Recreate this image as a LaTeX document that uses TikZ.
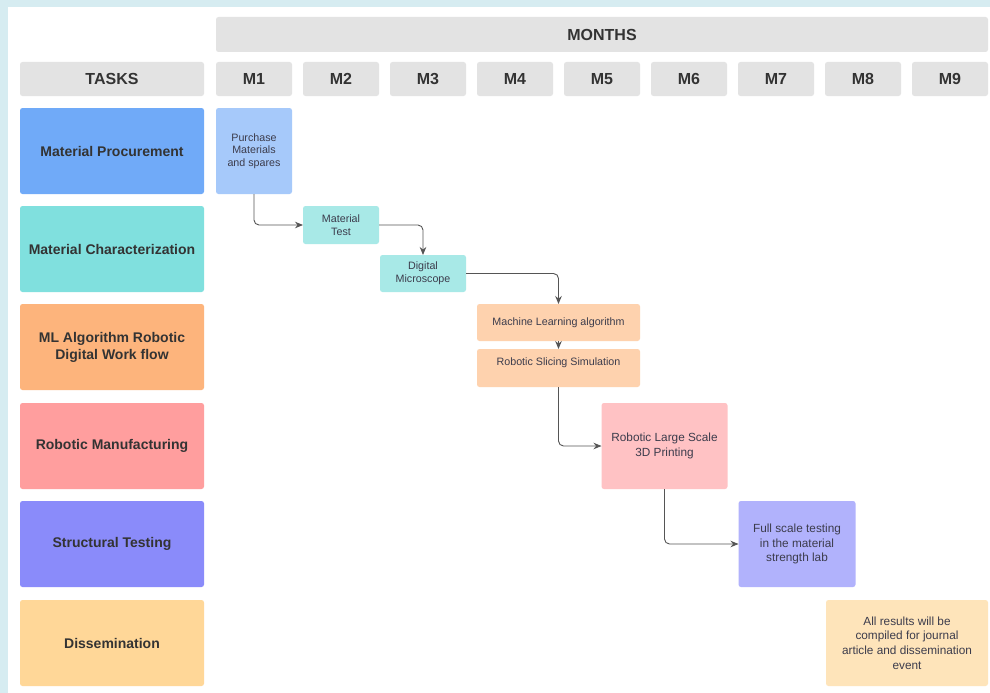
\documentclass[tikz,border=0pt]{standalone}
\usepackage{fontspec}
\setmainfont{Liberation Sans}
\usetikzlibrary{arrows.meta}
\definecolor{bordercol}{HTML}{D6ECF1}
\definecolor{hdr}{HTML}{E3E3E3}
\definecolor{hdrtext}{HTML}{333333}
\definecolor{acttext}{HTML}{3C3C4C}
\definecolor{tA}{HTML}{70AAF8}
\definecolor{aA}{HTML}{A6C9FA}
\definecolor{tB}{HTML}{80E0DE}
\definecolor{aB}{HTML}{A8E9E7}
\definecolor{tC}{HTML}{FDB47C}
\definecolor{aC}{HTML}{FED2AE}
\definecolor{tD}{HTML}{FF9E9E}
\definecolor{aD}{HTML}{FFC2C4}
\definecolor{tE}{HTML}{8A8BFA}
\definecolor{aE}{HTML}{B1B2FC}
\definecolor{tF}{HTML}{FFD798}
\definecolor{aF}{HTML}{FEE4BA}
\definecolor{linecol}{HTML}{555555}
\tikzset{
  box/.style={draw=none, rounded corners=2.5pt, inner sep=0pt, outer sep=0pt, align=center},
  hdrbox/.style={box, fill=hdr, text=hdrtext, font=\fontsize{16}{18}\selectfont\bfseries},
  taskbox/.style={box, text=hdrtext, minimum width=184pt, minimum height=86pt, font=\fontsize{14}{17}\selectfont\bfseries},
  monthbox/.style={hdrbox, minimum width=76pt, minimum height=34pt},
  actbox/.style={box, text=acttext, font=\fontsize{10.7}{12.6}\selectfont},
  actbig/.style={box, text=acttext, font=\fontsize{11.8}{14.6}\selectfont},
  conn/.style={draw=linecol, line width=0.9pt, rounded corners=5pt, -{Stealth[length=8pt,width=6.5pt]}}
}
\begin{document}
\begin{tikzpicture}[x=1pt, y=-1pt]
\useasboundingbox (0,0) rectangle (990,693);
\fill[white] (0,0) rectangle (990,693);
\fill[bordercol] (0,0) rectangle (990,7);
\fill[bordercol] (0,0) rectangle (8,693);
% headers
\node[hdrbox, minimum width=772pt, minimum height=35pt] (months) at (602,34.5) {MONTHS};
\node[hdrbox, minimum width=184pt, minimum height=34pt] (tasks) at (112,79) {TASKS};
\foreach \i in {1,...,9} {
  \node[monthbox] (m\i) at ({254+87*(\i-1)},79) {M\i};
}
% task rows
\node[taskbox, fill=tA] (rA) at (112,151) {Material Procurement};
\node[taskbox, fill=tB] (rB) at (112,249) {Material Characterization};
\node[taskbox, fill=tC] (rC) at (112,347) {ML Algorithm Robotic\\Digital Work flow};
\node[taskbox, fill=tD] (rD) at (112,446) {Robotic Manufacturing};
\node[taskbox, fill=tE] (rE) at (112,544) {Structural Testing};
\node[taskbox, fill=tF] (rF) at (112,643) {Dissemination};
% activities
\node[actbox, fill=aA, minimum width=76pt, minimum height=86pt] (purchase) at (254,151) {Purchase\\Materials\\and spares};
\node[actbox, fill=aB, minimum width=76pt, minimum height=38pt] (mtest) at (341,225) {Material\\Test};
\node[actbox, fill=aB, minimum width=86pt, minimum height=37pt] (micro) at (423,273.5) {Digital\\Microscope};
\node[actbox, fill=aC, minimum width=163pt, minimum height=37pt] (ml) at (558.5,322.5) {Machine Learning algorithm};
\node[actbox, fill=aC, minimum width=163pt, minimum height=38pt, text depth=12pt] (slice) at (558.5,368) {Robotic Slicing Simulation};
\node[actbig, fill=aD, minimum width=126pt, minimum height=86pt] (print) at (664.5,446) {Robotic Large Scale\\3D Printing};
\node[actbig, fill=aE, minimum width=117pt, minimum height=86pt] (full) at (797,544) {Full scale testing\\in the material\\strength lab};
\node[actbig, fill=aF, minimum width=162pt, minimum height=86pt] (results) at (907,643) {All results will be\\compiled for journal\\article and dissemination\\event};
% connectors
\draw[conn] (purchase.south) |- (mtest.west);
\draw[conn] (mtest.east) -| (micro.north);
\draw[conn] (micro.east) -| (ml.north);
\draw[conn] (ml.south) -- (slice.north);
\draw[conn] (slice.south) |- (print.west);
\draw[conn] (print.south) |- (full.west);
\end{tikzpicture}
\end{document}
